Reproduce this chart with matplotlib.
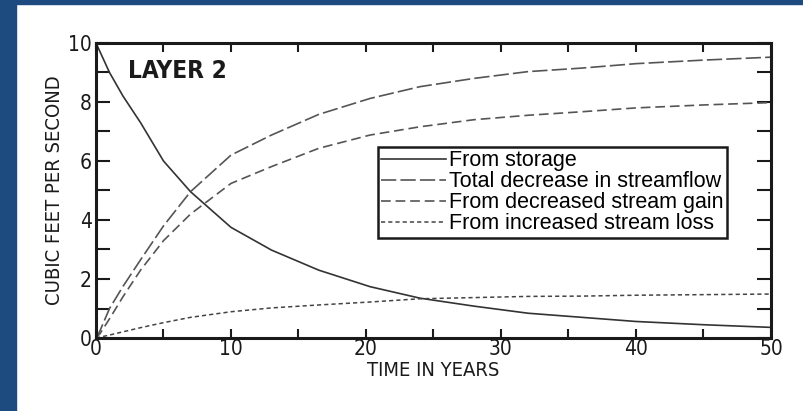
import matplotlib.pyplot as plt
from matplotlib.patches import Rectangle

plt.rcParams['font.family'] = ['DejaVu Sans']
plt.rcParams['font.stretch'] = 'condensed'
plt.rcParams['lines.scale_dashes'] = False

# Time in years and flow components (cubic feet per second)
years = [0, 0.3, 1, 2, 3.3, 5, 7, 10, 13, 16.5, 20.3, 24, 28, 32, 36, 40, 45, 50]
from_storage = [10, 9.7, 9.0, 8.2, 7.3, 6.0, 4.96, 3.75, 2.98, 2.3, 1.74, 1.35, 1.08,
                0.84, 0.70, 0.56, 0.45, 0.36]
total_decrease = [0, 0.25, 1.0, 1.75, 2.65, 3.8, 4.96, 6.2, 6.88, 7.58, 8.12, 8.52, 8.8,
                  9.03, 9.15, 9.3, 9.42, 9.52]
decreased_gain = [0, 0.15, 0.65, 1.4, 2.3, 3.3, 4.2, 5.24, 5.81, 6.43, 6.88, 7.16, 7.4,
                  7.55, 7.67, 7.8, 7.9, 7.98]
increased_loss = [0, 0.03, 0.1, 0.21, 0.35, 0.52, 0.7, 0.89, 1.02, 1.12, 1.22, 1.33, 1.37,
                  1.41, 1.42, 1.45, 1.47, 1.49]

x_labels = [0, 10, 20, 30, 40, 50]
y_labels = [0, 2, 4, 6, 8, 10]

fig = plt.figure(figsize=(8.04, 4.11), dpi=100)

# blue page border on the left and top
blue = '#1e4b7f'
fig.patches.append(Rectangle((0, 0), 16 / 804, 1, transform=fig.transFigure,
                             color=blue, zorder=0))
fig.patches.append(Rectangle((0, 1 - 4 / 411), 1, 4 / 411, transform=fig.transFigure,
                             color=blue, zorder=0))

ax = fig.add_axes([96 / 804, 73 / 411, 675 / 804, 295 / 411])

ax.plot(years, from_storage, color='#333333', lw=1.2, label='From storage')
ax.plot(years, total_decrease, color='#555555', lw=1.2, dashes=(11, 3),
        label='Total decrease in streamflow')
ax.plot(years, decreased_gain, color='#555555', lw=1.2, dashes=(7, 3.5),
        label='From decreased stream gain')
ax.plot(years, increased_loss, color='#444444', lw=1.1, dashes=(3, 2.2),
        label='From increased stream loss')

ax.set_xlim(0, 50)
ax.set_ylim(0, 10)
ax.set_xticks(range(0, 51, 5))
ax.set_xticklabels([str(v) if v in x_labels else '' for v in range(0, 51, 5)])
ax.set_yticks(range(0, 11))
ax.set_yticklabels([str(v) if v in y_labels else '' for v in range(0, 11)])

for spine in ax.spines.values():
    spine.set_linewidth(2.2)
    spine.set_color('#1a1a1a')

ax.tick_params(axis='x', direction='in', length=6.5, width=1.5, top=True,
               labelsize=15, pad=1, colors='#1a1a1a')
ax.tick_params(axis='y', direction='in', length=10, width=1.5, right=True,
               labelsize=15, pad=3, colors='#1a1a1a')

ax.set_xlabel('TIME IN YEARS', fontsize=14.5, color='#1a1a1a', labelpad=1)
ax.set_ylabel('CUBIC FEET PER SECOND', fontsize=14.5, color='#1a1a1a', labelpad=3)

ax.text(0.048, 0.905, 'LAYER 2', transform=ax.transAxes, fontsize=17.5,
        fontweight='bold', color='#1a1a1a', va='center', ha='left')

leg = ax.legend(loc='upper left', bbox_to_anchor=(0.418, 0.647), borderaxespad=0,
                fancybox=False, framealpha=1, edgecolor='#1a1a1a',
                prop={'family': ['Liberation Sans', 'DejaVu Sans'], 'size': 15.5,
                      'stretch': 'normal'},
                handlelength=3.0, handletextpad=0.15, labelspacing=0.0,
                borderpad=0.15)
leg.get_frame().set_linewidth(1.8)

fig.savefig('out.png', dpi=100)
